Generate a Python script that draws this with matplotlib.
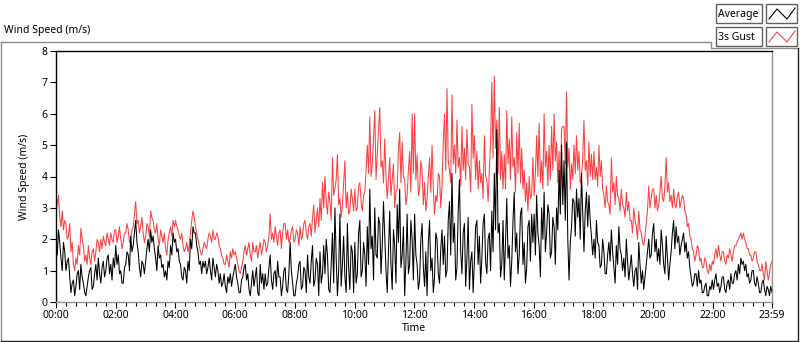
import numpy as np
import matplotlib.pyplot as plt
from matplotlib.lines import Line2D
from matplotlib.patches import Rectangle

plt.rcParams['font.family'] = ['Noto Sans', 'DejaVu Sans']

# 2.5-minute readings, one row per hour (m/s)
gust = [
    2.8, 3.1, 3.4, 2.7, 2.4, 2.9, 2.3, 2.6, 2.5, 2.0, 2.1, 2.5, 1.6, 1.9, 1.2, 1.0, 1.4, 1.2, 1.8, 1.5, 2.35, 2.0, 1.8, 1.3,
    1.5, 1.2, 1.8, 1.4, 1.2, 1.6, 1.7, 1.3, 1.6, 2.0, 1.9, 1.6, 2.0, 1.7, 2.1, 1.9, 1.8, 2.2, 2.0, 1.8, 2.2, 2.0, 1.9, 2.3,
    2.3, 1.9, 2.1, 2.4, 2.0, 1.7, 1.9, 2.2, 2.2, 2.5, 2.3, 1.9, 2.0, 2.3, 2.4, 2.8, 3.2, 2.5, 2.6, 2.2, 2.4, 2.7, 2.2, 1.9,
    2.1, 2.5, 2.4, 2.1, 2.9, 2.7, 2.6, 2.3, 2.2, 2.5, 2.0, 1.8, 2.3, 2.1, 1.9, 2.2, 1.7, 1.5, 2.0, 2.2, 2.4, 2.1, 2.6, 2.4,
    2.6, 2.4, 2.3, 2.1, 2.0, 2.2, 1.8, 1.6, 1.7, 1.9, 1.6, 1.8, 2.2, 2.6, 2.9, 2.7, 2.4, 2.2, 2.0, 1.8, 1.6, 1.5, 1.7, 1.9,
    1.8, 1.7, 2.0, 2.2, 2.1, 1.9, 2.3, 2.0, 2.0, 2.2, 2.1, 1.8, 1.7, 1.5, 1.4, 1.2, 1.2, 1.5, 1.3, 1.1, 1.6, 1.4, 1.7, 1.5,
    1.6, 1.4, 1.2, 1.0, 0.9, 1.1, 1.3, 1.6, 1.8, 1.5, 1.7, 1.9, 1.5, 1.3, 1.9, 1.6, 1.6, 1.8, 1.4, 1.7, 1.9, 1.5, 1.7, 2.0,
    1.9, 1.6, 1.8, 2.1, 2.8, 2.0, 2.2, 1.9, 2.4, 2.1, 1.8, 2.2, 2.3, 1.7, 2.2, 2.5, 2.5, 2.0, 2.3, 1.9, 2.0, 2.3, 2.4, 1.9,
    2.0, 2.3, 2.2, 1.8, 2.4, 2.0, 2.1, 2.5, 2.6, 2.2, 2.0, 2.4, 2.5, 2.1, 2.7, 3.1, 2.2, 2.6, 3.0, 2.4, 3.3, 2.6, 3.8, 3.0,
    4.0, 3.2, 2.8, 3.5, 3.2, 2.6, 4.6, 3.4, 3.6, 3.9, 4.7, 3.1, 3.3, 2.7, 3.1, 3.8, 4.5, 3.0, 3.5, 2.8, 2.9, 3.6, 3.3, 2.9,
    3.6, 2.9, 3.0, 3.7, 3.8, 3.2, 2.9, 3.4, 3.5, 4.2, 5.0, 4.1, 5.9, 4.0, 4.4, 5.2, 6.1, 3.9, 4.7, 5.5, 6.2, 4.3, 4.5, 3.8,
    5.2, 4.0, 3.3, 3.9, 4.6, 3.4, 3.9, 4.4, 3.0, 3.5, 3.6, 4.9, 5.4, 3.8, 5.1, 4.0, 3.9, 3.1, 3.4, 4.2, 4.8, 3.5, 6.0, 4.1,
    6.0, 3.9, 4.7, 3.4, 3.6, 4.5, 4.2, 3.1, 3.8, 2.9, 3.3, 4.0, 4.6, 3.5, 5.0, 3.6, 2.8, 3.4, 3.2, 4.1, 4.0, 3.0, 3.7, 5.1,
    6.0, 4.2, 6.8, 4.5, 4.2, 3.8, 6.6, 4.4, 5.0, 4.1, 5.8, 4.3, 4.6, 3.7, 5.6, 4.2, 4.9, 3.9, 5.5, 4.4, 4.3, 3.5, 6.3, 4.6,
    5.3, 3.9, 4.8, 3.6, 4.5, 3.8, 4.1, 3.3, 5.3, 4.0, 3.9, 3.2, 4.2, 5.1, 7.0, 4.6, 7.2, 4.9, 5.8, 4.1, 6.2, 3.9, 4.8, 3.6,
    4.7, 3.6, 6.1, 4.4, 5.2, 3.9, 5.9, 4.3, 4.6, 3.5, 5.4, 4.1, 5.7, 3.8, 4.9, 3.6, 4.2, 3.2, 3.8, 2.9, 4.0, 3.3, 3.4, 4.6,
    3.4, 4.1, 5.3, 4.0, 5.7, 3.8, 4.5, 3.6, 6.0, 4.3, 4.8, 3.7, 5.0, 3.9, 5.6, 4.2, 6.0, 4.5, 5.1, 3.8, 4.8, 3.6, 5.5, 5.6,
    5.6, 4.4, 6.7, 4.3, 4.9, 3.6, 4.4, 3.9, 5.0, 4.1, 5.3, 4.2, 4.8, 3.8, 4.0, 4.6, 5.8, 4.2, 4.5, 3.7, 5.1, 4.0, 4.7, 3.9,
    4.8, 3.9, 4.3, 3.7, 5.0, 4.0, 4.5, 3.6, 3.4, 3.0, 3.7, 3.2, 3.1, 2.8, 4.6, 3.5, 3.8, 3.1, 4.0, 3.4, 3.3, 2.9, 3.6, 3.1,
    3.0, 2.7, 3.5, 2.9, 3.2, 2.6, 2.6, 2.2, 3.0, 2.6, 2.4, 2.0, 2.9, 2.3, 2.2, 1.9, 1.8, 2.1, 2.5, 2.9, 3.7, 3.0, 3.3, 3.6,
    3.6, 3.0, 3.4, 2.9, 3.1, 3.5, 4.0, 3.3, 3.2, 3.7, 4.6, 3.5, 3.8, 3.2, 3.4, 3.0, 3.6, 3.1, 3.0, 3.4, 3.5, 3.0, 3.2, 3.4,
    3.3, 2.9, 2.8, 2.4, 2.5, 2.1, 2.0, 1.7, 1.6, 1.3, 1.5, 1.8, 1.7, 1.3, 1.4, 1.1, 1.1, 1.4, 1.3, 1.0, 0.9, 1.2, 1.0, 1.3,
    1.2, 1.5, 1.7, 1.4, 1.8, 1.5, 1.3, 1.6, 1.6, 1.3, 1.2, 1.5, 1.4, 1.7, 1.5, 1.3, 1.6, 1.8, 1.8, 1.9, 2.0, 2.1, 2.2, 2.0,
    2.2, 2.0, 1.9, 1.7, 1.7, 1.5, 1.5, 1.3, 1.4, 1.6, 1.6, 1.3, 1.2, 1.0, 1.0, 1.2, 0.9, 0.7, 1.3, 1.0, 0.7, 0.9, 1.2, 1.3,
]

average = [
    1.8, 1.5, 2.3, 1.9, 1.4, 1.0, 1.9, 1.6, 1.0, 1.3, 1.4, 0.8, 0.3, 0.6, 0.7, 0.2, 0.5, 0.9, 1.0, 0.4, 1.2, 0.8, 0.6, 0.3,
    0.2, 0.5, 0.8, 1.0, 1.1, 0.4, 0.5, 0.9, 1.2, 0.7, 1.4, 0.9, 0.6, 1.1, 1.3, 0.8, 1.0, 1.4, 1.5, 0.9, 1.2, 0.7, 1.4, 1.1,
    1.8, 1.2, 1.5, 0.9, 1.0, 0.6, 0.6, 1.1, 1.2, 1.6, 1.5, 1.0, 2.1, 1.6, 1.8, 2.2, 2.6, 1.9, 1.6, 1.1, 0.8, 1.3, 1.2, 0.9,
    1.3, 1.7, 2.0, 1.6, 2.3, 1.9, 2.1, 1.7, 1.4, 1.0, 1.8, 1.4, 1.5, 1.1, 1.2, 0.8, 1.0, 0.7, 1.3, 1.1, 1.8, 1.5, 2.2, 1.9,
    2.0, 1.6, 1.7, 1.3, 1.2, 0.8, 0.7, 1.1, 1.0, 0.6, 1.3, 1.0, 2.0, 1.7, 2.4, 2.2, 2.2, 1.8, 1.6, 1.2, 1.3, 0.9, 1.3, 1.1,
    1.3, 0.9, 1.1, 1.4, 1.0, 0.7, 1.4, 1.1, 0.8, 1.2, 1.0, 0.6, 0.9, 0.5, 0.6, 0.9, 0.5, 0.3, 0.8, 0.6, 0.9, 0.5, 0.8, 1.0,
    1.2, 0.8, 0.6, 0.3, 0.3, 0.7, 0.8, 1.1, 1.2, 0.7, 0.9, 0.4, 0.2, 0.6, 1.0, 0.5, 0.8, 1.1, 0.3, 0.2, 1.2, 0.6, 0.9, 0.4,
    0.9, 0.5, 0.6, 1.1, 1.5, 0.7, 0.4, 0.9, 1.0, 0.5, 1.3, 0.8, 0.8, 0.2, 0.5, 1.0, 1.1, 0.4, 0.3, 0.9, 1.9, 1.0, 0.6, 0.2,
    0.2, 0.6, 0.8, 1.2, 1.3, 0.4, 0.5, 1.1, 1.0, 0.3, 1.5, 0.8, 0.6, 1.3, 1.8, 0.5, 0.7, 1.4, 1.2, 0.2, 1.6, 0.6, 0.9, 1.8,
    0.9, 2.0, 1.5, 0.4, 0.3, 1.2, 2.2, 0.6, 3.0, 1.4, 0.2, 1.0, 2.8, 0.5, 1.2, 2.1, 0.8, 0.3, 2.5, 1.1, 0.4, 1.8, 1.6, 0.3,
    1.9, 0.6, 0.9, 2.2, 2.6, 0.8, 1.0, 1.9, 1.5, 0.5, 2.4, 1.2, 3.6, 1.7, 2.1, 0.7, 3.0, 1.5, 1.4, 2.7, 2.5, 0.9, 1.8, 3.2,
    2.1, 1.0, 0.3, 1.6, 2.9, 1.2, 0.4, 2.3, 1.8, 0.6, 3.1, 1.9, 3.6, 1.1, 1.5, 2.4, 0.2, 1.3, 2.8, 0.9, 1.2, 2.6, 2.0, 0.7,
    2.8, 1.5, 1.2, 0.4, 0.7, 2.0, 2.5, 1.1, 0.5, 1.6, 0.2, 1.9, 2.6, 1.0, 1.4, 0.3, 0.8, 2.2, 2.0, 0.9, 0.6, 1.7, 2.3, 1.2,
    2.1, 0.8, 1.0, 2.6, 3.2, 1.5, 4.1, 1.9, 2.5, 0.7, 1.1, 2.9, 3.9, 1.6, 0.9, 2.2, 2.5, 0.5, 1.4, 2.7, 0.4, 1.3, 1.6, 0.3,
    1.3, 2.4, 2.6, 1.2, 2.1, 0.6, 1.4, 2.5, 2.8, 1.3, 0.9, 2.0, 2.2, 1.0, 2.9, 1.6, 4.1, 2.3, 5.5, 2.2, 2.5, 0.8, 1.2, 2.6,
    0.7, 1.9, 3.3, 1.4, 1.8, 0.5, 1.3, 2.6, 3.5, 1.6, 2.2, 0.9, 1.5, 2.8, 3.0, 1.2, 1.9, 0.6, 1.1, 2.4, 2.6, 1.3, 2.8, 1.9,
    2.8, 1.5, 3.4, 2.2, 1.8, 0.8, 3.0, 2.0, 3.5, 1.6, 2.2, 3.1, 2.8, 1.4, 1.6, 2.7, 2.4, 1.2, 3.0, 2.3, 4.2, 2.8, 5.0, 3.1,
    4.5, 2.6, 5.1, 2.0, 0.7, 1.9, 2.4, 3.3, 3.2, 2.1, 3.6, 2.7, 3.3, 2.0, 4.1, 2.8, 1.6, 2.9, 3.5, 2.4, 3.4, 2.6, 2.1, 1.5,
    2.0, 1.4, 2.6, 1.9, 1.8, 1.1, 1.2, 2.0, 1.6, 0.9, 0.9, 1.5, 1.9, 1.3, 2.3, 1.6, 1.1, 0.6, 1.8, 1.2, 2.4, 1.7, 1.5, 1.0,
    1.4, 0.8, 2.0, 1.3, 0.7, 1.1, 1.5, 0.9, 0.5, 1.0, 1.1, 0.4, 1.9, 1.2, 0.6, 1.0, 0.4, 0.8, 1.2, 1.6, 2.0, 1.4, 1.5, 2.2,
    2.5, 1.6, 2.0, 1.3, 1.7, 1.2, 2.3, 1.8, 1.2, 0.9, 2.1, 1.4, 0.7, 1.2, 1.6, 2.2, 2.6, 1.7, 2.4, 1.9, 2.1, 1.5, 1.8, 2.0,
    2.2, 1.6, 1.9, 1.4, 1.6, 1.1, 0.8, 0.5, 0.6, 0.9, 0.9, 0.5, 1.0, 0.6, 0.7, 0.3, 0.3, 0.5, 0.6, 0.2, 0.2, 0.5, 0.4, 0.7,
    0.4, 0.7, 0.9, 0.5, 0.6, 0.3, 0.5, 0.8, 0.8, 0.4, 0.3, 0.6, 0.7, 0.4, 0.9, 0.6, 0.6, 0.9, 1.0, 0.7, 1.2, 0.9, 1.4, 1.2,
    1.3, 1.0, 1.2, 0.8, 0.9, 0.6, 0.7, 1.0, 1.0, 0.6, 0.5, 0.8, 0.6, 0.3, 0.3, 0.6, 0.7, 0.4, 0.2, 0.5, 0.4, 0.2, 0.5, 0.3,
]

tick_minutes = [0, 120, 240, 360, 480, 600, 720, 840, 960, 1080, 1200, 1320, 1439]
tick_labels = ['00:00', '02:00', '04:00', '06:00', '08:00', '10:00', '12:00',
               '14:00', '16:00', '18:00', '20:00', '22:00', '23:59']

W, H = 800, 342
fig = plt.figure(figsize=(W / 100, H / 100), dpi=100)

def fx(px):
    return px / W

def fy(py):
    return 1 - py / H

# outer panel frame
fig.add_artist(Line2D([fx(0.5), fx(711), fx(711), fx(797.5)],
                      [fy(42), fy(42), fy(48), fy(48)], color='#8c8c8c', lw=1))
fig.add_artist(Line2D([fx(0.5), fx(0.5)], [fy(42), fy(341)], color='#8c8c8c', lw=1))
fig.add_artist(Line2D([fx(0.5), fx(797.5), fx(797.5)], [fy(341), fy(341), fy(48)],
                      color='#202020', lw=1))

fig.text(fx(4), fy(31), 'Wind Speed (m/s)', fontsize=7.5, va='center', ha='left')

# legend boxes
for i, (name, col) in enumerate([('Average', 'black'), ('3s Gust', '#ff4040')]):
    top = 4 + i * 23
    fig.add_artist(Rectangle((fx(716), fy(top + 19)), fx(46), 19 / H, fill=False,
                             ec='#606060', lw=1))
    fig.add_artist(Rectangle((fx(766), fy(top + 19)), fx(31), 19 / H, fill=False,
                             ec='#606060', lw=1))
    fig.text(fx(718), fy(top + 10), name, fontsize=7.5, va='center', ha='left')
    fig.add_artist(Line2D([fx(769), fx(777), fx(787), fx(795)],
                          [fy(top + 15), fy(top + 5), fy(top + 15), fy(top + 4)],
                          color=col, lw=0.8))

ax = fig.add_axes([fx(56), fy(302), fx(772 - 56), (302 - 51) / H])
ax.plot(np.linspace(0, 1439, len(gust)), gust, color='#ff4040', lw=0.75)
ax.plot(np.linspace(0, 1439, len(average)), average, color='black', lw=0.75)

ax.set_xlim(0, 1439)
ax.set_ylim(0, 8)
ax.set_yticks(range(9))
ax.set_xticks(tick_minutes)
ax.set_xticklabels(tick_labels)
ax.set_xticks([m for m in range(20, 1439, 20) if m % 120 != 0], minor=True)
ax.tick_params(axis='both', labelsize=7.5, direction='out', length=4, width=0.8, pad=2)
ax.tick_params(axis='x', which='minor', length=3, width=0.8)

ax.spines['left'].set_color('black')
ax.spines['top'].set_color('black')
ax.spines['right'].set_color('#909090')
ax.spines['bottom'].set_color('#909090')
for s in ax.spines.values():
    s.set_linewidth(1)

ax.set_ylabel('Wind Speed (m/s)', fontsize=7.5, labelpad=8)
ax.set_xlabel('Time', fontsize=7.5, labelpad=1)

fig.savefig('out.png', dpi=100)
